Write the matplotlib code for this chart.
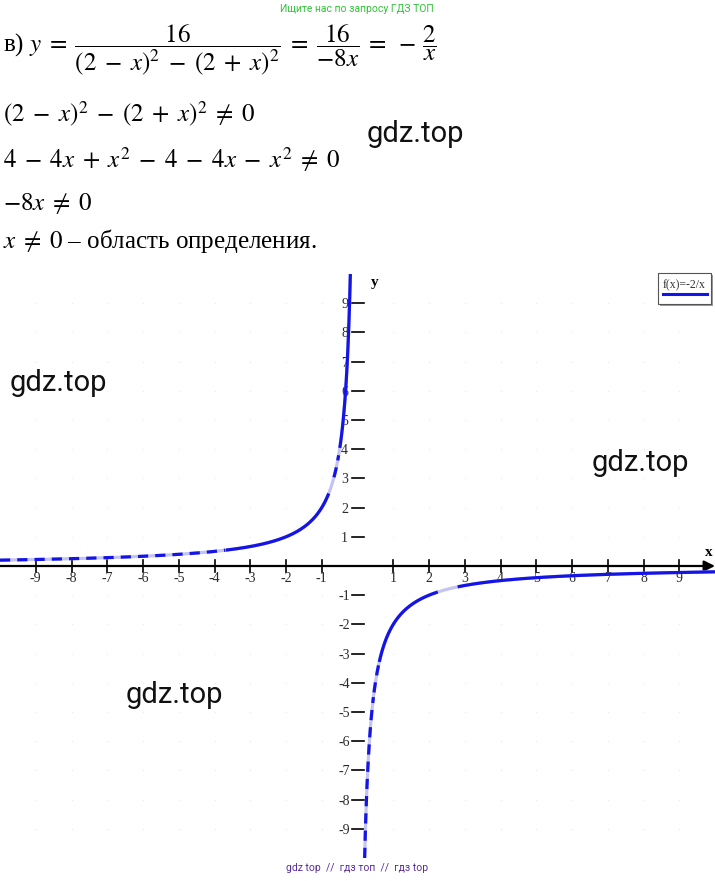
import numpy as np
import matplotlib
matplotlib.use("Agg")
import matplotlib.pyplot as plt
from matplotlib.patches import Rectangle

# ---- data ----
x_ticks = [-9, -8, -7, -6, -5, -4, -3, -2, -1, 1, 2, 3, 4, 5, 6, 7, 8, 9]
y_ticks = [-9, -8, -7, -6, -5, -4, -3, -2, -1, 1, 2, 3, 4, 5, 6, 7, 8, 9]
k = -2.0                      # f(x) = k / x
x_left = np.linspace(-10, -0.2, 600)
x_right = np.linspace(0.2, 10, 600)
# segments of the curve drawn in solid / dashed blue over a pale line
left_segments = [(-10.0, -3.7, "dash"), (-3.7, -0.8, "solid"),
                 (-0.67, -0.52, "dash"), (-0.5, -0.2, "solid")]
right_segments = [(0.2, 0.45, "dash"), (0.45, 0.6, "dash"),
                  (0.6, 2.25, "solid"), (2.8, 10.0, "solid")]

W, H = 715, 881
fig = plt.figure(figsize=(W / 100, H / 100), dpi=100)
plt.rcParams['mathtext.fontset'] = 'stix'
serif = ['Liberation Serif', 'DejaVu Serif']
FS = 18

def fy(py):
    return 1 - py / H

def fx(px):
    return px / W

# ---- header text ----
fig.text(fx(357), fy(9), "Ищите нас по запросу ГДЗ ТОП", color="#33c23a",
         fontsize=7.5, family=['Roboto', 'DejaVu Sans'], ha='center', va='center')
S = r"\;"
fig.text(fx(3), fy(50),
         r"в) $y" + S + "=" + S + r"\dfrac{16}{(2" + S + "-" + S + "x)^2" + S + "-" + S +
         "(2" + S + "+" + S + "x)^2}" + S + "=" + S + r"\dfrac{16}{-8x}" + S + "=" + S +
         r"-\,\dfrac{2}{x}$",
         fontsize=FS, family=serif, ha='left', va='center')
fig.text(fx(3), fy(122), "$(2" + S + "-" + S + "x)^2" + S + "-" + S + "(2" + S + "+" + S +
         "x)^2" + S + r"\neq" + S + "0$", fontsize=FS,
         family=serif, ha='left', va='baseline')
fig.text(fx(3), fy(168), "$4" + S + "-" + S + "4x" + S + "+" + S + "x^2" + S + "-" + S +
         "4" + S + "-" + S + "4x" + S + "-" + S + "x^2" + S + r"\neq" + S + "0$",
         fontsize=FS, family=serif, ha='left', va='baseline')
fig.text(fx(3), fy(210), "$-8x" + S + r"\neq" + S + "0$", fontsize=FS,
         family=serif, ha='left', va='baseline')
fig.text(fx(3), fy(248), "$x" + S + r"\neq" + S + "0$ – область определения.",
         fontsize=FS, family=serif, ha='left', va='baseline')

# ---- axes ----
ax = fig.add_axes([0, fy(858), 1, (858 - 274) / H])
ax.set_xlim(-10, 10)
ax.set_ylim(-10, 10)
ax.axis('off')

# faint grid dots
gx, gy = np.meshgrid(np.arange(-9, 10), np.arange(-9, 10))
ax.scatter(gx.ravel(), gy.ravel(), s=1.0, color="#ececec", zorder=0, linewidths=0)

# axes lines with arrows
ax.annotate("", xy=(10.0, 0), xytext=(-10.2, 0),
            arrowprops=dict(arrowstyle="-|>", color="black", lw=1.6,
                            mutation_scale=16, shrinkA=0, shrinkB=0), zorder=2)
ax.annotate("", xy=(0, 10.05), xytext=(0, -10.2),
            arrowprops=dict(arrowstyle="-|>", color="black", lw=1.6,
                            mutation_scale=16, shrinkA=0, shrinkB=0), zorder=2)

tick_half_x = 6 / 29.2
tick_half_y = 6 / 35.75
for t in x_ticks:
    ax.plot([t, t], [-tick_half_x, tick_half_x], color="black", lw=1.2, zorder=2)
    ax.text(t, -13 / 29.2, str(t), ha='center', va='center', fontsize=10,
            family=serif, color="#2a2a2a")
for t in y_ticks:
    ax.plot([-tick_half_y, tick_half_y], [t, t], color="black", lw=1.2, zorder=2)
    ax.text(-13 / 35.75, t - 0.05, str(t), ha='center', va='center', fontsize=10,
            family=serif, color="#2a2a2a")

ax.text(9.83, 14 / 29.2, "x", fontsize=11, family=serif, weight='bold',
        ha='center', va='center')
ax.text(0.48, 9.7, "y", fontsize=11, family=serif, weight='bold',
        ha='center', va='center')

# ---- curve ----
blue = "#1414e6"
pale = "#c4c4f2"
for xs in (x_left, x_right):
    ax.plot(xs, k / xs, color=pale, lw=2.3, zorder=3, solid_capstyle='butt')
for xs, segs in ((x_left, left_segments), (x_right, right_segments)):
    for a, b, st in segs:
        xx = xs[(xs >= a) & (xs <= b)]
        if st == "solid":
            ax.plot(xx, k / xx, color=blue, lw=2.3, zorder=4, solid_capstyle='butt')
        else:
            ax.plot(xx, k / xx, color=blue, lw=2.3, zorder=4,
                    dashes=(3.2, 2.2), dash_capstyle='butt')

# ---- legend box ----
lx0, lx1 = fx(658), fx(711)
ly0, ly1 = fy(304), fy(273)
fig.patches.append(Rectangle((lx0 + 2 / W, ly0 - 2 / H), lx1 - lx0, ly1 - ly0,
                             transform=fig.transFigure, facecolor="#9a9a9a",
                             edgecolor="none", zorder=5))
fig.patches.append(Rectangle((lx0, ly0), lx1 - lx0, ly1 - ly0,
                             transform=fig.transFigure, facecolor="white",
                             edgecolor="#555555", lw=0.8, zorder=6))
fig.text(fx(684.5), fy(285), "f(x)=-2/x", fontsize=8.5, family=serif,
         color="#333333", ha='center', va='center', zorder=7)
fig.add_artist(plt.Line2D([fx(663), fx(707)], [fy(294), fy(294)],
                          color=blue, lw=2.2, transform=fig.transFigure, zorder=7))

# ---- watermarks ----
wm = ['Roboto', 'DejaVu Sans']
for px, py in ((415, 134), (58, 383), (640, 463), (174, 695)):
    fig.text(fx(px), fy(py), "gdz.top", fontsize=21, family=wm,
             ha='center', va='center', color="#111111", zorder=8)

fig.text(fx(357), fy(868), "gdz top  //  гдз топ  //  гдз top", fontsize=7.5,
         family=wm, color="#5a2d9c", ha='center', va='center')

fig.savefig("out.png", dpi=100, facecolor="white")
